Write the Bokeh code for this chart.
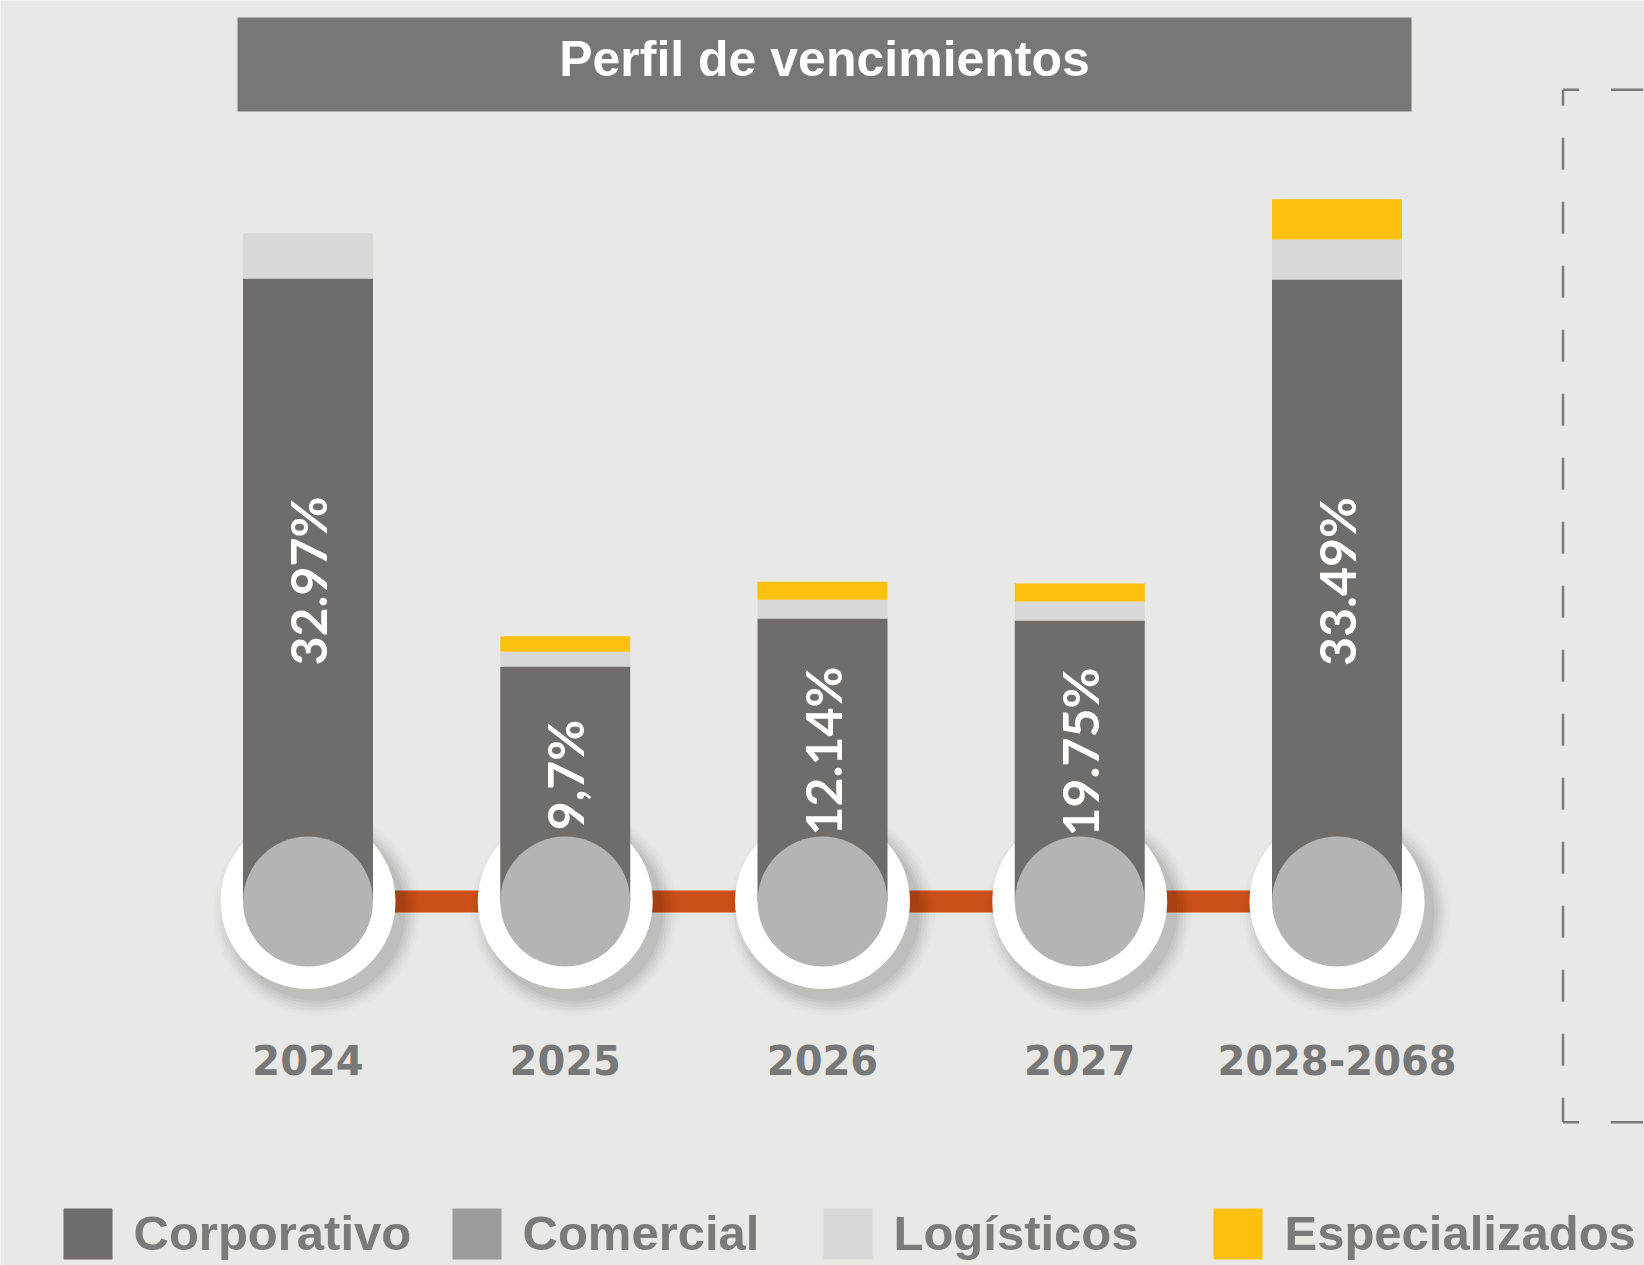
import numpy as np
from bokeh.plotting import figure
from bokeh.models import ColumnDataSource, FactorRange, Range1d
from bokeh.transform import dodge
from bokeh.core.properties import value
from bokeh.embed import file_html
from bokeh.resources import INLINE

# ---------------- data ----------------
years = ["2024", "2025", "2026", "2027", "2028-2068"]
labels = ["32.97%", "9,7%", "12.14%", "19.75%", "33.49%"]
corporativo = [32.96, 12.43, 14.97, 14.87, 32.91]
comercial = [0.0, 0.0, 0.0, 0.0, 0.0]
logisticos = [2.40, 0.79, 1.00, 1.00, 2.12]
especializados = [0.0, 0.81, 0.95, 0.95, 2.12]
series = ["Corporativo", "Comercial", "Logísticos", "Especializados"]
title_text = "Perfil de vencimientos"

# ---------------- styles ----------------
BG = "#E8E8E6"
series_colors = ["#6F6D6C", "#9C9C9A", "#D8D8D8", "#FCC10E"]
ORANGE = "#CB5018"
INNER = "#B4B4B4"
TITLE_BG = "#777777"
TEXT_GRAY = "#777777"

W, H = 1644, 1265
PAD = 0.6953
PX_PER_UNIT = 18.9
ZERO_PX = 901  # screen row of the baseline
UNIT_X = W / (len(years) + 2 * PAD)


def sx(px):
    """screen column -> synthetic x coordinate (for decorations only)"""
    return -PAD + px / UNIT_X


def sy(py):
    """screen row -> y coordinate (for decorations only)"""
    return (ZERO_PX - py) / PX_PER_UNIT


src = ColumnDataSource(dict(
    year=years,
    label=labels,
    corp=corporativo,
    com=comercial,
    log=logisticos,
    esp=especializados,
    label_y=[c / 2 for c in corporativo],
))

x_range = FactorRange(factors=years, range_padding=PAD, range_padding_units="absolute")
y_range = Range1d(sy(H), sy(0))

p = figure(width=W, height=H, x_range=x_range, y_range=y_range,
           output_backend="svg", toolbar_location=None,
           x_axis_location=None, y_axis_location=None,
           min_border=0, background_fill_color=BG, border_fill_color=BG,
           outline_line_color=None)
p.grid.visible = False

# connecting orange line
p.line(x="year", y=0, source=src, line_width=22, line_color=ORANGE)

# soft shadows (offset down-right)
for extra, alpha in [(16, 0.015), (13, 0.02), (10, 0.03), (7, 0.035), (4, 0.04), (1, 0.045)]:
    p.scatter(x=dodge("year", 9 / UNIT_X, range=p.x_range), y=-11 / PX_PER_UNIT, source=src,
              size=175 + 2 * extra, fill_color="black", fill_alpha=alpha, line_color=None)

# white rings
p.scatter(x="year", y=0, source=src, size=175, fill_color="white", line_color=None)

# stacked bars
p.vbar_stack(["corp", "com", "log", "esp"], x="year", width=130 / UNIT_X, source=src,
             fill_color=series_colors, line_color=None)

# inner discs
p.scatter(x="year", y=0, source=src, size=130, fill_color=INNER, line_color=None)

# value labels (rotated)
p.text(x="year", y="label_y", text="label", source=src, angle=np.pi / 2,
       text_align="center", text_baseline="middle", text_color="white",
       text_font=value("Lato"), text_font_style="bold", text_font_size="50px", y_offset=-9)

# category labels
p.text(x="year", y=sy(1059), text="year", source=src,
       text_align="center", text_baseline="middle", text_color=TEXT_GRAY,
       text_font=value("DejaVu Sans"), text_font_style="bold", text_font_size="40px")

# title box
p.quad(left=[sx(237)], right=[sx(1411)], top=[sy(17)], bottom=[sy(111)],
       fill_color=TITLE_BG, line_color=None)
p.text(x=[sx(824)], y=[sy(58)], text=[title_text], text_align="center",
       text_baseline="middle", text_color="white", text_font=value("Liberation Sans"),
       text_font_style="bold", text_font_size="50px")

# legend
sq_left = [63, 452, 823, 1213]
txt_left = [133, 522, 893, 1284]
p.quad(left=[sx(v) for v in sq_left], right=[sx(v + 49) for v in sq_left],
       top=[sy(1208)] * 4, bottom=[sy(1259)] * 4,
       fill_color=series_colors, line_color=None)
p.text(x=[sx(v) for v in txt_left], y=[sy(1232)] * 4, text=series, text_align="left",
       text_baseline="middle", text_color="#7A7A7A", text_font=value("Liberation Sans"),
       text_font_style="bold", text_font_size="49px")

# dashed frame on the right
L, T, B = sx(1562.5), sy(89.3), sy(1121.7)
R = sx(1720)
p.multi_line(xs=[[L, R], [L, L], [L, R]], ys=[[T, T], [T, B], [B, B]],
             line_dash="32 32", line_dash_offset=16, line_width=2.5, line_color="#7A7A7A")

with open("out.html", "w", encoding="utf-8") as f:
    f.write(file_html(p, INLINE))
